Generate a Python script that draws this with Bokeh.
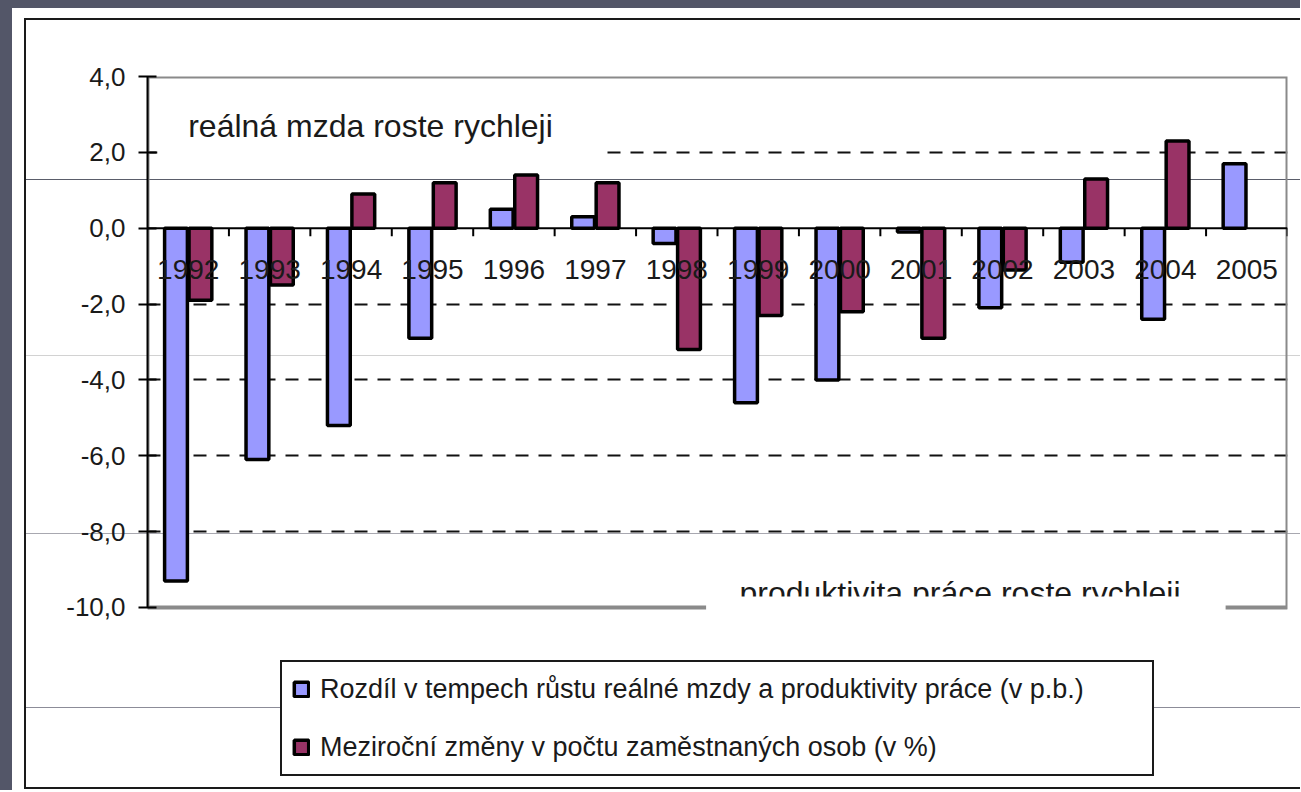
import numpy as np
from bokeh.plotting import figure
from bokeh.models import (ColumnDataSource, Range1d, FixedTicker, CustomJSTickFormatter,
                          Span, Label, BoxAnnotation, Legend, LegendItem)
from bokeh.transform import dodge
from bokeh.core.properties import value
from bokeh.embed import file_html
from bokeh.resources import INLINE

# ---------------- data ----------------
years = ["1992", "1993", "1994", "1995", "1996", "1997", "1998",
         "1999", "2000", "2001", "2002", "2003", "2004", "2005"]
rozdil = [-9.3, -6.1, -5.2, -2.9, 0.5, 0.3, -0.4, -4.6, -4.0, -0.1, -2.1, -0.9, -2.4, 1.7]
zmeny = [-1.9, -1.5, 0.9, 1.2, 1.4, 1.2, -3.2, -2.3, -2.2, -2.9, -1.1, 1.3, 2.3, np.nan]
y_ticks = [-10, -8, -6, -4, -2, 0, 2, 4]
grid_ticks = [-8, -6, -4, -2, 2]
legend_labels = ["Rozdíl v tempech růstu reálné mzdy a produktivity práce (v p.b.)",
                 "Meziroční změny v počtu zaměstnaných osob (v %)"]
note_top = "reálná mzda roste rychleji"
note_bottom = "produktivita práce roste rychleji"

BLUE = "#9999FF"
RED = "#993366"
FONT = "Liberation Sans"
TXT = "#1a1a1a"

n = len(years)
y_top, y_bottom = 4, -10          # value axis extent
y_view_bottom = -14.72            # plot area continues below the axis to hold the legend

src = ColumnDataSource(dict(
    x=np.arange(n) + 0.5,
    year=years,
    rozdil=np.array(rozdil, dtype=float),
    zmeny=np.array(zmeny, dtype=float),
))
bounds = ColumnDataSource(dict(x=np.arange(1, n + 1), y0=np.zeros(n), y1=np.full(n, -0.21)))

W, H = 1300, 790

# page decoration (slide background strip, outer chart border, thin slide lines)
lines = [(179, "#5a5d6a"), (355, "#d2d2d2"), (533, "#a8a8b0"), (707, "#8c8c98")]
page_styles = {
    "background-color": "white",
    "background-image": ", ".join(f"linear-gradient({c}, {c})" for _, c in lines),
    "background-size": ", ".join("100% 1px" for _ in lines),
    "background-position": ", ".join(f"0px {y}px" for y, _ in lines),
    "background-repeat": "no-repeat",
    "box-shadow": ("inset 12px 8px 0 0 #535668, inset 24px 18px 0 0 white, "
                   "inset 0 -1px 0 0 white, inset 0 -3px 0 0 #1a1a1a, "
                   "inset 26px 20px 0 0 #1a1a1a"),
}

p = figure(width=W, height=H, output_backend="svg", toolbar_location=None,
           x_range=Range1d(0, n), y_range=Range1d(y_view_bottom, y_top),
           x_axis_location=None, styles=page_styles,
           min_border_left=147, min_border_right=13, min_border_top=76, min_border_bottom=4)
p.border_fill_alpha = 0
p.background_fill_alpha = 0
p.outline_line_color = None

# gray border of the value area
p.add_layout(BoxAnnotation(left=0, right=n, top=y_top, bottom=y_bottom,
                           fill_alpha=0, line_color="#8a8a8a", line_alpha=1, line_width=4,
                           level="underlay"))

# y axis
p.yaxis.bounds = (y_bottom, y_top)
p.yaxis.ticker = FixedTicker(ticks=y_ticks)
p.yaxis.formatter = CustomJSTickFormatter(code="return tick.toFixed(1).replace('.', ',');")
p.yaxis.axis_line_width = 2
p.yaxis.axis_line_color = "black"
p.yaxis.major_tick_line_width = 2
p.yaxis.major_tick_line_color = "black"
p.yaxis.major_tick_in = 9
p.yaxis.major_tick_out = 9
p.yaxis.minor_tick_line_color = None
p.yaxis.major_label_standoff = 13
p.yaxis.major_label_text_font = FONT
p.yaxis.major_label_text_font_size = "26px"
p.yaxis.major_label_text_color = TXT

# grid
p.xgrid.grid_line_color = None
p.ygrid.ticker = FixedTicker(ticks=grid_ticks)
p.ygrid.grid_line_color = "#111111"
p.ygrid.grid_line_width = 2
p.ygrid.grid_line_dash = "13 10"

# bars
rb = p.vbar(x=dodge("x", -0.15, range=p.x_range), top="rozdil", bottom=0, width=0.28, source=src,
            fill_color=BLUE, line_color="black", line_width=3.5)
rr = p.vbar(x=dodge("x", 0.15, range=p.x_range), top="zmeny", bottom=0, width=0.28, source=src,
            fill_color=RED, line_color="black", line_width=3.5)

# zero line with category ticks
p.add_layout(Span(location=0, dimension="width", line_color="black", line_width=2))
p.segment(x0="x", y0="y0", x1="x", y1="y1", source=bounds, line_color="black", line_width=2)

# year labels along the zero line
p.text(x="x", y=-1.1, text="year", source=src, text_align="center", text_baseline="middle",
       text_font=value(FONT), text_font_size="28px", text_color=TXT)

# annotation texts
p.add_layout(BoxAnnotation(left=0.12, right=5.56, top=3.76, bottom=1.9,
                           fill_color="white", fill_alpha=1, line_color=None))
p.add_layout(Label(x=0.5, y=2.69, text=note_top, text_font=FONT, text_font_size="32px",
                   text_color=TXT, text_baseline="alphabetic"))
p.add_layout(Label(x=7.27, y=-9.62, text=note_bottom, text_font=FONT, text_font_size="32px",
                   text_color=TXT, text_baseline="alphabetic"))
p.add_layout(BoxAnnotation(left=6.86, right=13.24, top=596, bottom=612,
                           top_units="canvas", bottom_units="canvas",
                           fill_color="white", fill_alpha=1, line_color=None))

# legend (inside the lower part of the plot area)
legend = Legend(items=[LegendItem(label=legend_labels[0], renderers=[rb]),
                       LegendItem(label=legend_labels[1], renderers=[rr])],
                location=(133, 10), orientation="vertical",
                label_text_font=FONT, label_text_font_size="27px", label_text_color=TXT,
                glyph_width=18, glyph_height=18, label_standoff=10,
                label_height=34, label_width=822,
                padding=10, spacing=24, margin=0,
                border_line_color="#1a1a1a", border_line_alpha=1, border_line_width=2,
                background_fill_color="white", background_fill_alpha=1)
p.add_layout(legend)

open("out.html", "w").write(file_html(p, INLINE))
